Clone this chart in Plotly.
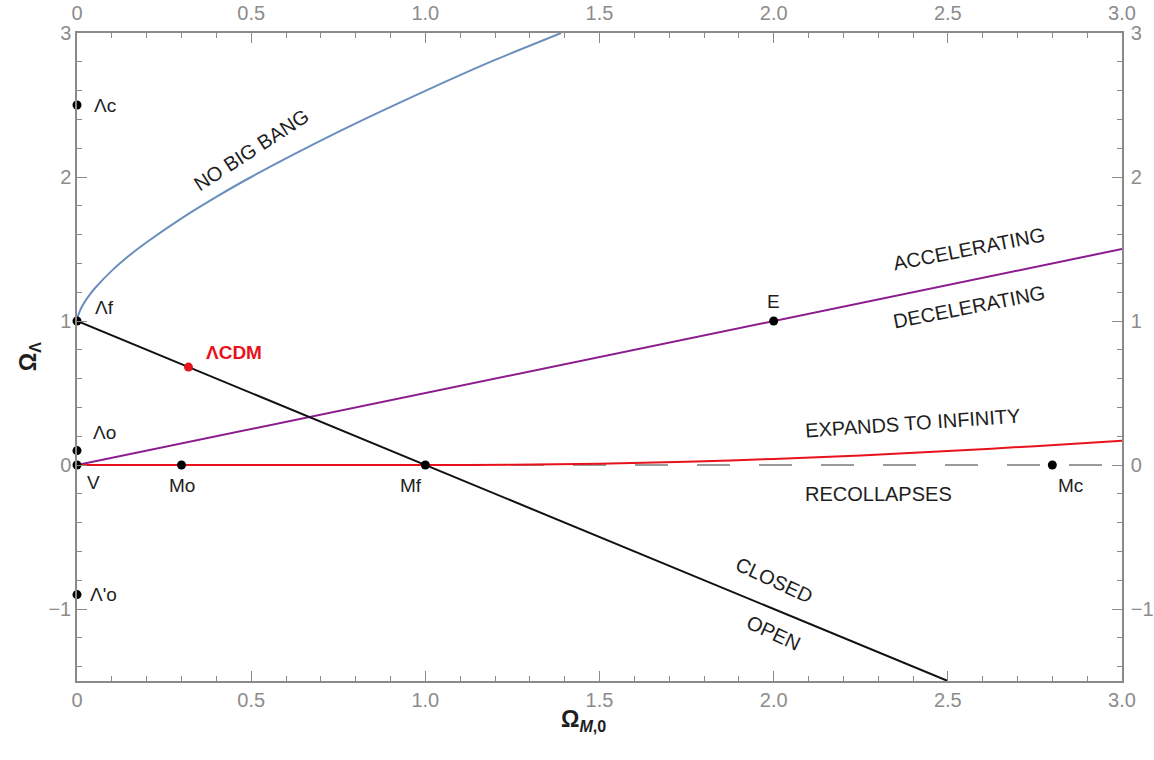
import plotly.graph_objects as go

# Boundary curves in the (Omega_M0, Omega_Lambda) plane
no_big_bang_x = [0.0, 0.001, 0.002, 0.005, 0.01, 0.02, 0.035, 0.05, 0.1, 0.15, 0.2, 0.3, 0.4, 0.5, 0.75, 1.0, 1.2, 1.39]
no_big_bang_y = [1.0, 1.017, 1.029, 1.05, 1.08, 1.124, 1.178, 1.224, 1.35, 1.455, 1.547, 1.713, 1.862, 2.0, 2.313, 2.598, 2.813, 3.0]

accel_x = [0.0, 3.0]
accel_y = [0.0, 1.5]

flat_x = [0.0, 2.5]
flat_y = [1.0, -1.5]

recollapse_x = [0.0, 1.0, 1.25, 1.5, 1.75, 2.0, 2.25, 2.5, 2.75, 3.0]
recollapse_y = [0.0, 0.0, 0.0015, 0.009, 0.0225, 0.042, 0.0667, 0.0965, 0.131, 0.169]

zero_x = [0.0, 3.0]
zero_y = [0.0, 0.0]

# Named models
point_names = ["Λc", "Λf", "Λo", "V", "Λ'o", "Mo", "Mf", "Mc", "E"]
point_x = [0.0, 0.0, 0.0, 0.0, 0.0, 0.3, 1.0, 2.8, 2.0]
point_y = [2.5, 1.0, 0.1, 0.0, -0.9, 0.0, 0.0, 0.0, 1.0]
label_dx = [28, 27, 27, 16, 26, 0, -14, 18, 0]
label_dy = [0, -14, -18, 17, 0, 20, 20, 20, -20]

lcdm_x = [0.32]
lcdm_y = [0.68]

# Region labels: text, x, y, angle
region_text = ["NO BIG BANG", "ACCELERATING", "DECELERATING", "EXPANDS TO INFINITY", "RECOLLAPSES", "CLOSED", "OPEN"]
region_x = [0.50, 2.56, 2.56, 2.40, 2.30, 2.0, 2.0]
region_y = [2.19, 1.50, 1.10, 0.29, -0.20, -0.80, -1.17]
region_angle = [-33, -11, -11, -4, 0, 25, 25]

x_tickvals = [0, 0.5, 1.0, 1.5, 2.0, 2.5, 3.0]
x_ticktext = ["0", "0.5", "1.0", "1.5", "2.0", "2.5", "3.0"]
y_tickvals = [-1, 0, 1, 2, 3]
y_ticktext = ["\u22121", "0", "1", "2", "3"]

FONT = "Liberation Sans, Arial, sans-serif"
AXIS_GRAY = "#8a8a8a"
TICK_GRAY = "#8c8c8c"
TEXT = "#1e1e1e"

fig = go.Figure()

fig.add_trace(go.Scatter(x=zero_x, y=zero_y, mode="lines",
                         line=dict(color="#7a7a7a", width=1.3, dash="33px,29px"),
                         hoverinfo="skip"))
fig.add_trace(go.Scatter(x=no_big_bang_x, y=no_big_bang_y, mode="lines",
                         line=dict(color="#6a8fbd", width=2, shape="spline", smoothing=0.6)))
fig.add_trace(go.Scatter(x=accel_x, y=accel_y, mode="lines",
                         line=dict(color="#8b1c8f", width=2)))
fig.add_trace(go.Scatter(x=recollapse_x, y=recollapse_y, mode="lines",
                         line=dict(color="#e8121c", width=2, shape="spline", smoothing=0.5)))
fig.add_trace(go.Scatter(x=flat_x, y=flat_y, mode="lines",
                         line=dict(color="#111111", width=2)))
fig.add_trace(go.Scatter(x=point_x, y=point_y, mode="markers",
                         marker=dict(color="#000000", size=9), cliponaxis=False))
fig.add_trace(go.Scatter(x=lcdm_x, y=lcdm_y, mode="markers",
                         marker=dict(color="#e8121c", size=9)))
# invisible trace carrying the mirrored top/right axes
fig.add_trace(go.Scatter(x=[0, 3], y=[-1.5, 3], xaxis="x2", yaxis="y2",
                         mode="markers", marker=dict(opacity=0), hoverinfo="skip"))

annotations = []
for name, px, py, dx, dy in zip(point_names, point_x, point_y, label_dx, label_dy):
    annotations.append(dict(x=px, y=py, xref="x", yref="y", text=name, showarrow=False,
                            xshift=dx, yshift=-dy, font=dict(family=FONT, size=19, color=TEXT)))
annotations.append(dict(x=lcdm_x[0], y=lcdm_y[0], xref="x", yref="y", text="<b>ΛCDM</b>",
                        showarrow=False, xshift=46, yshift=15,
                        font=dict(family=FONT, size=19, color="#e8121c")))
for t, rx, ry, ang in zip(region_text, region_x, region_y, region_angle):
    annotations.append(dict(x=rx, y=ry, xref="x", yref="y", text=t, showarrow=False,
                            textangle=ang, font=dict(family=FONT, size=20, color=TEXT)))
# axis titles
annotations.append(dict(x=0.485, y=-0.035, xref="paper", yref="paper", yanchor="top",
                        text="<b>Ω<sub><i>M</i>,0</sub></b>", showarrow=False,
                        font=dict(family=FONT, size=23, color=TEXT)))
annotations.append(dict(x=-0.03, y=0.5, xref="paper", yref="paper", xanchor="right",
                        text="<b>Ω<sub>Λ</sub></b>", showarrow=False, textangle=-90,
                        font=dict(family=FONT, size=23, color=TEXT)))

common = dict(showgrid=False, zeroline=False, showline=True, linecolor=AXIS_GRAY, linewidth=1.5,
              ticks="inside", ticklen=10, tickwidth=1.3, tickcolor=AXIS_GRAY, automargin=False,
              tickfont=dict(family=FONT, size=20, color=TICK_GRAY), fixedrange=True)

fig.update_layout(
    width=1154, height=760,
    margin=dict(l=77, r=32, t=33, b=79),
    paper_bgcolor="white", plot_bgcolor="white",
    showlegend=False,
    annotations=annotations,
    xaxis=dict(range=[0, 3], tickvals=x_tickvals, ticktext=x_ticktext,
               minor=dict(ticks="inside", ticklen=5, dtick=0.1, tick0=0, tickcolor=AXIS_GRAY),
               **common),
    yaxis=dict(range=[-1.5, 3], tickvals=y_tickvals, ticktext=y_ticktext,
               minor=dict(ticks="inside", ticklen=5, dtick=0.2, tick0=0, tickcolor=AXIS_GRAY),
               **common),
    xaxis2=dict(range=[0, 3], overlaying="x", side="top", anchor="y",
                tickvals=x_tickvals, ticktext=x_ticktext, ticklabelstandoff=3,
                minor=dict(ticks="inside", ticklen=5, dtick=0.1, tick0=0, tickcolor=AXIS_GRAY),
                **common),
    yaxis2=dict(range=[-1.5, 3], overlaying="y", side="right", anchor="x",
                tickvals=y_tickvals, ticktext=y_ticktext, ticklabelstandoff=3,
                minor=dict(ticks="inside", ticklen=5, dtick=0.2, tick0=0, tickcolor=AXIS_GRAY),
                **common),
)

fig.write_html("out.html")
